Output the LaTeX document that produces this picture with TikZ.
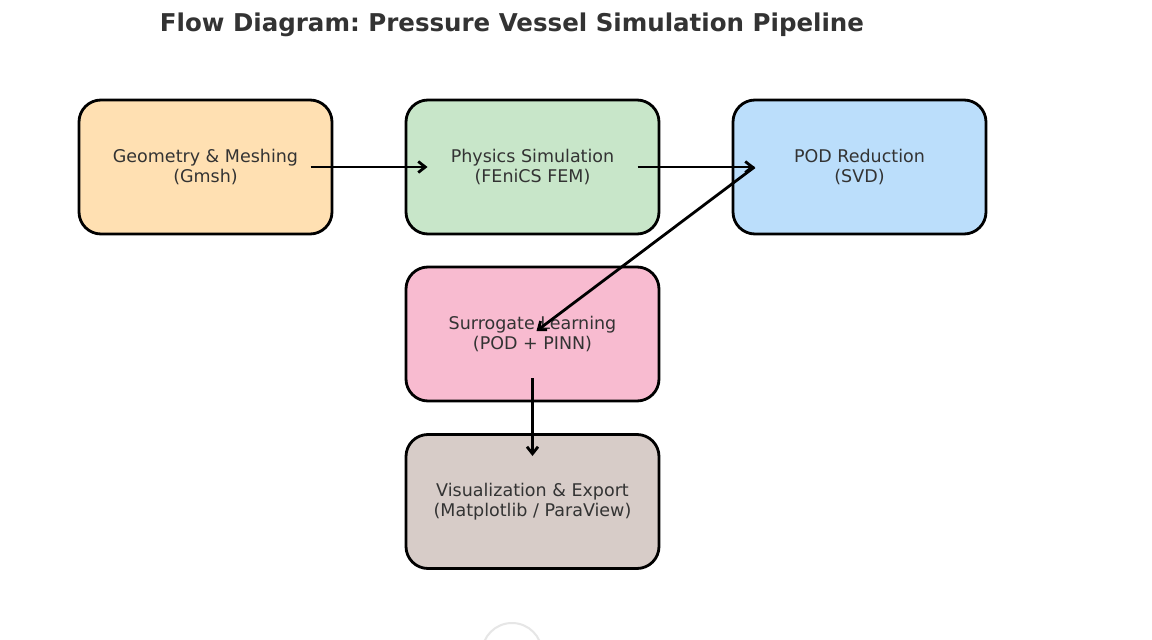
\documentclass[tikz,border=0pt]{standalone}
\usepackage{fontspec}
\setmainfont{DejaVu Sans}
\usetikzlibrary{arrows.meta,calc}
\definecolor{txt}{HTML}{333333}
\definecolor{cgeo}{HTML}{FFE0B2}
\definecolor{cphys}{HTML}{C8E6C9}
\definecolor{cpod}{HTML}{BBDEFB}
\definecolor{csur}{HTML}{F8BBD0}
\definecolor{cvis}{HTML}{D7CCC8}
\definecolor{cring}{HTML}{E6E6E6}
\tikzset{
  stage/.style={draw=black, line width=2.8pt, rounded corners=22pt,
    minimum width=253pt, minimum height=134pt, inner sep=0pt,
    align=center, text=txt, font=\fontsize{17.5}{20.5}\selectfont},
  flow/.style={line width=2.8pt, -{Straight Barb[length=7pt,width=11pt,line width=2.8pt]}},
}
\frenchspacing
\begin{document}
\begin{tikzpicture}[x=1pt,y=-1pt]
\useasboundingbox (0,0) rectangle (1152,640);
\fill[white] (0,0) rectangle (1152,640);
\node[font=\fontsize{24.5}{28}\selectfont\bfseries, text=txt] (title) at (512,25) {Flow Diagram: Pressure Vessel Simulation Pipeline};
\node[stage, fill=cgeo] (geo) at (205.5,167) {Geometry \& Meshing\\(Gmsh)};
\node[stage, fill=cphys] (phys) at (532.5,167) {Physics Simulation\\(FEniCS FEM)};
\node[stage, fill=cpod] (pod) at (859.5,167) {POD Reduction\\(SVD)};
\node[stage, fill=csur] (sur) at (532.5,334) {Surrogate Learning\\(POD + PINN)};
\node[stage, fill=cvis] (vis) at (532.5,501.5) {Visualization \& Export\\(Matplotlib / ParaView)};
\coordinate (a1s) at ($(geo.center)+(105,0)$);
\coordinate (a1e) at ($(phys.center)+(-105,0)$);
\coordinate (a2s) at ($(phys.center)+(105,0)$);
\coordinate (a2e) at ($(pod.center)+(-105,0)$);
\coordinate (a3s) at ($(pod.center)+(-105,0)$);
\coordinate (a3e) at ($(sur.center)+(4,-3)$);
\coordinate (a4s) at ($(sur.center)+(0,44)$);
\coordinate (a4e) at ($(vis.center)+(0,-45.5)$);
\draw[flow] (a1s) -- (a1e);
\draw[flow] (a2s) -- (a2e);
\draw[flow] (a3s) -- (a3e);
\draw[flow] (a4s) -- (a4e);
\node[draw=cring, line width=2pt, circle, minimum size=60pt, inner sep=0pt] (ring) at (512,653) {};
\end{tikzpicture}
\end{document}
